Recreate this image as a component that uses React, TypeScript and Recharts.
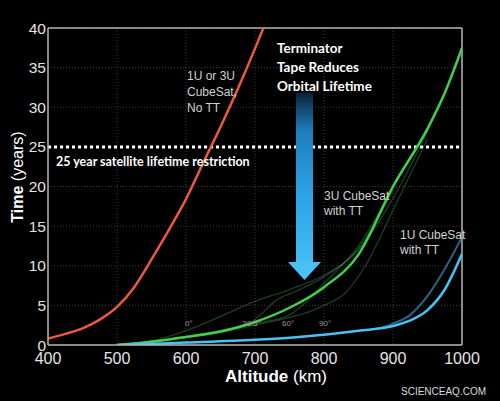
import { LineChart, Line, XAxis, YAxis, CartesianGrid, ReferenceLine } from 'recharts';

// altitude (km) -> orbital lifetime (years)
const noTTAlt = [400, 425, 450, 475, 500, 525, 550, 575, 600, 625, 650, 675, 700, 715];
const noTTYears = [0.8, 1.4, 2.1, 3.2, 4.8, 7.3, 10.8, 14.5, 18.4, 23.0, 27.5, 32.3, 37.4, 40.6];

const threeUAlt = [500, 550, 600, 650, 700, 750, 800, 850, 900, 950, 975, 1000];
const threeUYears = [0, 0.4, 1.0, 1.7, 2.9, 4.7, 7.3, 11.4, 20, 27.3, 31.8, 37.5];

const oneUAlt = [500, 550, 600, 700, 800, 850, 900, 925, 950, 975, 1000];
const oneUYears = [0, 0.15, 0.3, 0.65, 1.3, 1.8, 2.4, 3.1, 4.4, 7, 11.5];

const oneUUpperAlt = [880, 900, 925, 950, 975, 1000];
const oneUUpperYears = [2.1, 2.7, 3.8, 6.2, 9.6, 13.6];

// faint inclination runs for the 3U case (0°, 28.5°, 60°, 90°)
const inc0Alt = [520, 560, 600, 650, 700, 750, 800, 850, 900, 950, 1000];
const inc0Years = [0, 0.7, 1.8, 3.6, 5.5, 7, 8.8, 12, 18.5, 27, 37];
const inc28Alt = [500, 600, 650, 690, 710, 730, 760, 800, 850, 900];
const inc28Years = [0, 1, 1.8, 2.6, 4, 5.6, 6.8, 8.6, 12.2, 19.5];
const inc60Alt = [500, 700, 750, 775, 800, 850, 900];
const inc60Years = [0, 2.7, 3.8, 5.5, 7.8, 12.5, 20];
const inc90Alt = [500, 700, 800, 830, 860, 900, 950];
const inc90Years = [0, 2.5, 5, 6.5, 10, 17, 26];

const xTicks = [400, 500, 600, 700, 800, 900, 1000];
const yTicks = [0, 5, 10, 15, 20, 25, 30, 35, 40];
const angleLabels = ['0°', '28.5°', '60°', '90°'];

const zip = (alt: number[], yrs: number[]) => alt.map((a, i) => ({ alt: a, years: yrs[i] }));

const tickStyle = { fill: '#e4e4e4', fontSize: 15.5, fontFamily: 'Liberation Sans, Arial, sans-serif' };
const frame = '#b4b4b4';

export default function App() {
  const faint = [
    zip(inc0Alt, inc0Years),
    zip(inc28Alt, inc28Years),
    zip(inc60Alt, inc60Years),
    zip(inc90Alt, inc90Years),
  ];
  const angleX = [185, 242, 282, 319];

  return (
    <div style={{ position: 'fixed', left: 0, top: 0, width: 500, height: 401, background: '#000' }}>
      <LineChart width={500} height={401} margin={{ top: 28, right: 38, bottom: 26, left: 0 }}>
        <CartesianGrid stroke="#3c3c3c" strokeDasharray="1 2" />
        <XAxis
          type="number"
          dataKey="alt"
          domain={[400, 1000]}
          ticks={xTicks}
          allowDataOverflow
          height={30}
          tickLine={false}
          tickSize={0}
          tickMargin={8}
          tick={{ ...tickStyle, fontSize: 16 }}
          axisLine={{ stroke: frame, strokeWidth: 1.5 }}
        />
        <YAxis
          type="number"
          domain={[0, 40]}
          ticks={yTicks}
          allowDataOverflow
          width={48}
          tickLine={false}
          tickSize={0}
          tickMargin={2}
          tick={tickStyle}
          axisLine={{ stroke: frame, strokeWidth: 1.5 }}
        />
        <ReferenceLine y={40} stroke={frame} strokeWidth={1.5} />
        <ReferenceLine x={1000} stroke={frame} strokeWidth={1.5} />
        <ReferenceLine y={25} stroke="#ffffff" strokeWidth={3} strokeDasharray="3 3" />

        {faint.map((d, i) => (
          <Line key={i} data={d} dataKey="years" type="monotone" stroke="#4fae5f" strokeOpacity={0.35}
            strokeWidth={1.3} dot={false} isAnimationActive={false} />
        ))}
        <Line data={zip(oneUUpperAlt, oneUUpperYears)} dataKey="years" type="monotone" stroke="#3a8fc0"
          strokeOpacity={0.7} strokeWidth={2} dot={false} isAnimationActive={false} />
        <Line data={zip(noTTAlt, noTTYears)} dataKey="years" type="monotone" stroke="#ec5a3e"
          strokeWidth={2.5} dot={false} isAnimationActive={false} />
        <Line data={zip(threeUAlt, threeUYears)} dataKey="years" type="monotone" stroke="#3fd14e"
          strokeWidth={2.5} dot={false} isAnimationActive={false} />
        <Line data={zip(oneUAlt, oneUYears)} dataKey="years" type="monotone" stroke="#45c3f2"
          strokeWidth={2.5} dot={false} isAnimationActive={false} />
      </LineChart>

      <svg width={500} height={401} style={{ position: 'absolute', left: 0, top: 0, pointerEvents: 'none' }}>
        <defs>
          <linearGradient id="arrowFill" x1="0" y1="0" x2="0" y2="1">
            <stop offset="0%" stopColor="#0a2238" />
            <stop offset="22%" stopColor="#1f7cbc" />
            <stop offset="60%" stopColor="#2ba4e6" />
            <stop offset="100%" stopColor="#43bdf3" />
          </linearGradient>
        </defs>
        <rect x={296} y={93} width={17} height={170} fill="url(#arrowFill)" />
        <polygon points="288,262 321,262 304.5,280" fill="#48c1f4" />

        <g fontFamily="Lato, sans-serif" fontWeight={700} fill="#ffffff" fontSize={13.5}>
          <text x={277} y={53}>Terminator</text>
          <text x={277} y={72}>Tape Reduces</text>
          <text x={277} y={91}>Orbital Lifetime</text>
          <text x={56} y={166} fontSize={12.5}>25 year satellite lifetime restriction</text>
        </g>

        <g fontFamily="Liberation Sans, Arial, sans-serif" fill="#d2d2d2" fontSize={12}>
          <text x={187} y={80}>1U or 3U</text>
          <text x={187} y={96}>CubeSat,</text>
          <text x={187} y={112}>No TT</text>
          <text x={324} y={200}>3U CubeSat</text>
          <text x={324} y={215}>with TT</text>
          <text x={400} y={239}>1U CubeSat</text>
          <text x={400} y={254}>with TT</text>
        </g>

        <g fontFamily="Liberation Sans, Arial, sans-serif" fill="#9a9a9a" fontSize={8}>
          {angleLabels.map((t, i) => (
            <text key={t} x={angleX[i]} y={326}>{t}</text>
          ))}
        </g>

        <text x={225} y={382} fontFamily="Liberation Sans, Arial, sans-serif" fontSize={17} fill="#ffffff">
          <tspan fontWeight={700}>Altitude</tspan>
          <tspan> (km)</tspan>
        </text>
        <text transform="translate(23,177) rotate(-90)" textAnchor="middle"
          fontFamily="Liberation Sans, Arial, sans-serif" fontSize={16} fill="#ffffff">
          <tspan fontWeight={700}>Time</tspan>
          <tspan> (years)</tspan>
        </text>

        <text x={401} y={395} fontFamily="Liberation Sans, Arial, sans-serif" fontSize={10} fill="#dcdcdc">
          SCIENCEAQ.COM
        </text>
      </svg>
    </div>
  );
}
